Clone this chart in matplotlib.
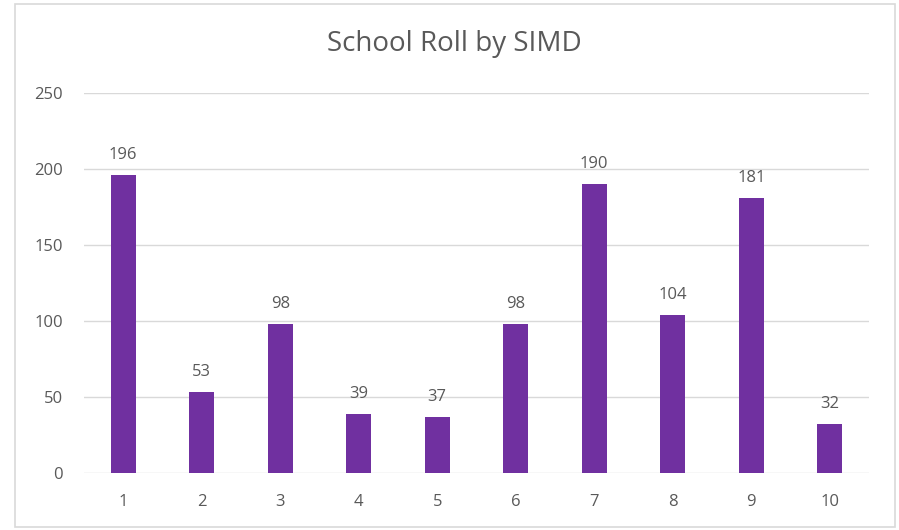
import matplotlib.pyplot as plt
from matplotlib.patches import Rectangle

simd = ["1", "2", "3", "4", "5", "6", "7", "8", "9", "10"]
roll = [196, 53, 98, 39, 37, 98, 190, 104, 181, 32]

plt.rcParams['font.family'] = ['Open Sans', 'DejaVu Sans']
text_col = "#595959"
bar_col = "#7030A0"

fig = plt.figure(figsize=(8.99, 5.3), dpi=100)
fig.patches.append(Rectangle((15 / 899, 3 / 530), 880 / 899, 523 / 530,
                             transform=fig.transFigure, fill=False,
                             edgecolor="#d9d9d9", linewidth=1.2))

ax = fig.add_axes([84 / 899, 1 - 473 / 530, 785 / 899, 380 / 530])
x = range(len(simd))
bars = ax.bar(x, roll, width=0.32, color=bar_col, zorder=3)

for b, v in zip(bars, roll):
    ax.text(b.get_x() + b.get_width() / 2, v + 8, str(v),
            ha="center", va="bottom", fontsize=12, color=text_col)

ax.set_xlim(-0.5, len(simd) - 0.5)
ax.set_ylim(0, 250)
ax.set_yticks(range(0, 251, 50))
ax.set_xticks(list(x))
ax.set_xticklabels(simd)
ax.yaxis.grid(True, color="#d9d9d9", linewidth=1, zorder=0)
ax.tick_params(length=0, labelsize=12, colors=text_col)
ax.tick_params(axis="x", pad=15)
ax.tick_params(axis="y", pad=15)
for s in ax.spines.values():
    s.set_visible(False)

fig.text(0.505, 1 - 44 / 530, "School Roll by SIMD", ha="center", va="center",
         fontsize=20, color=text_col)

fig.savefig("out.png", dpi=100)
